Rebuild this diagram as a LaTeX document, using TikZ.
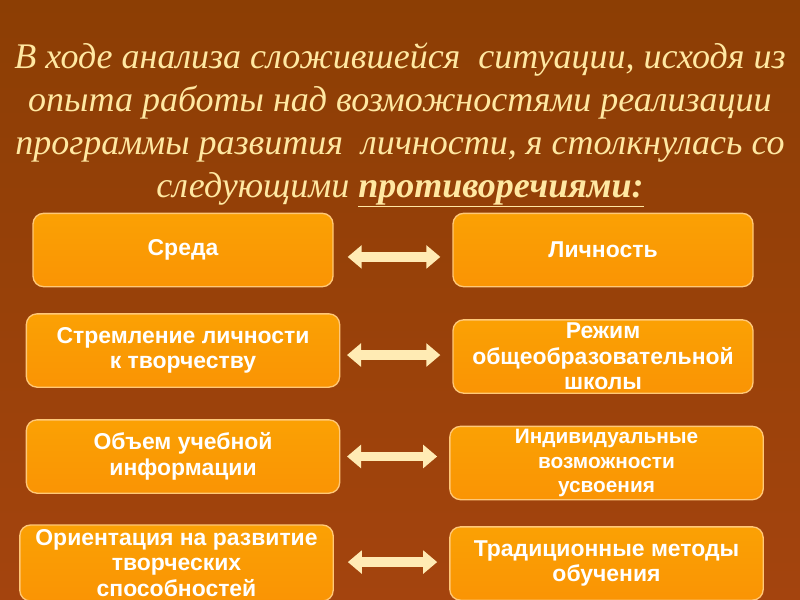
\documentclass[tikz,border=0pt]{standalone}
\usepackage{fontspec}
\setmainfont{Liberation Serif}
\setsansfont{Liberation Sans}
\usetikzlibrary{arrows.meta,positioning}
\definecolor{bgtop}{HTML}{8C3E04}
\definecolor{bgmid}{HTML}{BC5E1A}
\definecolor{bgbot}{HTML}{A4440E}
\definecolor{boxfill}{HTML}{FA9404}
\definecolor{boxline}{HTML}{FFC878}
\definecolor{titletext}{HTML}{FFE8A2}
\definecolor{arrowfill}{HTML}{FFEBB4}
\tikzset{
  all/.style  = {align=center},
  box/.style  = {all, draw=boxline, line width=1pt, rounded corners=8pt,
                 top color=boxfill!88!yellow, bottom color=boxfill,
                 text=white, font=\sffamily\bfseries\fontsize{17.2}{19}\selectfont,
                 inner sep=1pt},
  wide/.style = {box, minimum width=225pt, minimum height=55pt},
  wider/.style = {box, minimum width=235pt, minimum height=55pt},
  small/.style = {font=\sffamily\bfseries\fontsize{15.6}{18.5}\selectfont},
  contra/.style = {arrowfill, line width=7pt,
                   {Triangle[length=10.5pt,width=17pt]}-{Triangle[length=10.5pt,width=17pt]},
                   shorten >=9pt},
  heading/.style = {all, text=titletext, font=\itshape\fontsize{27}{32.25}\selectfont}
}

\begin{document}
\begin{tikzpicture}[x=0.75pt,y=-0.75pt]
% background of the slide
\useasboundingbox (0,0) rectangle (800,600);
\fill[top color=bgtop, middle color=bgmid, bottom color=bgbot] (0,0) rectangle (800,600);

% heading
\node[heading] (title) at (400,125) {В ходе анализа сложившейся\ \ ситуации, исходя из\\
  опыта работы над возможностями реализации\\
  программы развития\ \ личности, я столкнулась со\\
  следующими \underline{\textbf{противоречиями:}}};

% left column
\node[wide]  (sreda)   at (183,250)   {Среда};
\node[wider] (tvorch)  at (183,350.5) {Стремление личности\\к творчеству};
\node[wider] (obem)    at (183,456.5) {Объем учебной\\информации};
\node[wider, minimum height=57pt] (orient) at (176.5,563) {Ориентация на развитие\\творческих\\способностей};

% right column
\node[wide]  (lichn)   at (603,250)   {Личность};
\node[wide]  (rezhim)  at (603,356.5) {Режим\\общеобразовательной\\школы};
\node[wider, small] (indiv) at (606.5,463) {Индивидуальные\\возможности\\усвоения};
\node[wider] (metody)  at (606.5,563.5) {Традиционные методы\\обучения};

% contradictions
\draw[contra, shorten <=10.5pt] ([yshift=-5.2pt]sreda.east)  -- ([yshift=-5.2pt]sreda.east -| lichn.west);
\draw[contra, shorten <=5pt]    ([yshift=-3.4pt]tvorch.east) -- ([yshift=-3.4pt]tvorch.east -| rezhim.west);
\draw[contra, shorten <=5pt]    (obem.east)   -- (obem.east -| indiv.west);
\draw[contra, shorten <=10.5pt] ([yshift=0.7pt]orient.east) -- ([yshift=0.7pt]orient.east -| metody.west);
\end{tikzpicture}
\end{document}
